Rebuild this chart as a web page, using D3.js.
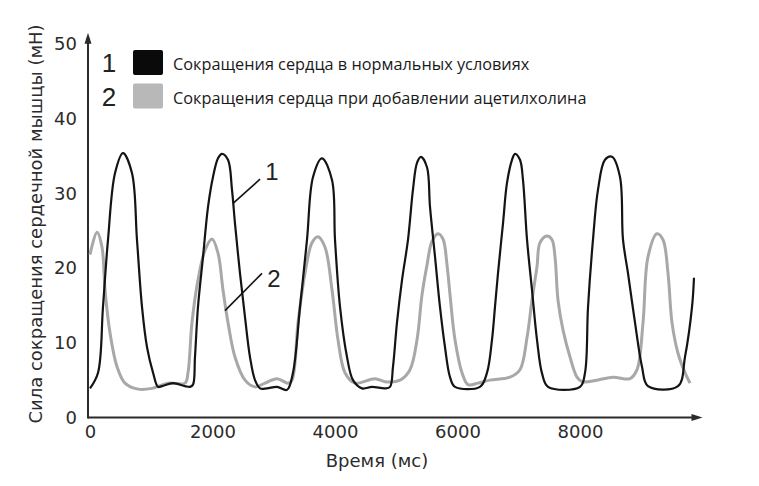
<!DOCTYPE html>
<html>
<head>
<meta charset="utf-8">
<script src="https://cdn.jsdelivr.net/npm/d3@7"></script>
<style>
  body { margin: 0; background: #fff; }
  svg { display: block; }
</style>
</head>
<body>
<div id="chart"></div>
<script>
// black trace: heart contractions, normal conditions
var timeNormal = [0, 131, 212, 294, 408, 539, 686, 767, 849, 931, 1029, 1110, 1176, 1355, 1551,
  1633, 1682, 1714, 1763, 1845, 1927, 2008, 2090, 2155, 2253, 2318, 2367, 2449, 2531, 2612, 2694, 2776,
  2890, 3053, 3216,
  3314, 3429, 3543, 3641, 3788, 3951, 4000, 4082, 4196, 4294, 4441, 4604, 4816, 4898,
  4947, 5012, 5094, 5192, 5273, 5339, 5404, 5502, 5551, 5633, 5714, 5796, 5878, 5959, 6367,
  6482, 6563, 6612, 6661, 6743, 6808, 6890, 6939, 7020, 7069, 7135, 7216, 7298, 7380, 7478, 8000,
  8082, 8131, 8212, 8294, 8408, 8522, 8653, 8702, 8784, 8898, 9012, 9110, 9600,
  9714, 9829, 9861];
var forceNormal = [3.9, 6.0, 14.8, 23.8, 32.7, 35.4, 32.7, 23.8, 14.8, 9.4, 6.0, 4.1, 4.2, 4.6, 4.2,
  4.1, 4.4, 8.1, 14.8, 21.5, 28.2, 32.2, 34.7, 35.3, 34.5, 30.5, 26.0, 19.3, 13.4, 8.1, 5.0, 3.9,
  3.9, 4.1, 3.7,
  6.0, 14.8, 23.8, 32.2, 34.7, 31.8, 23.8, 14.8, 8.1, 5.0, 3.9, 4.1, 3.9, 4.1,
  6.8, 12.7, 18.4, 23.8, 30.5, 34.1, 34.9, 33.5, 28.2, 21.5, 14.8, 9.4, 5.4, 4.1, 4.1,
  6.0, 10.4, 14.8, 19.3, 26.0, 31.4, 34.5, 35.3, 34.5, 31.8, 23.8, 17.1, 10.4, 5.9, 4.1, 4.1,
  6.0, 14.8, 23.8, 30.5, 34.5, 34.9, 32.2, 23.8, 19.3, 12.7, 6.8, 4.2, 4.2,
  8.1, 14.8, 18.7];

// grey trace: with acetylcholine added
var timeAch = [0, 114, 196, 245, 327, 441, 571, 784, 1012, 1273, 1551,
  1600, 1665, 1763, 1878, 1992, 2090, 2171, 2253, 2367, 2531, 2694, 2857, 3053, 3233,
  3298, 3396, 3510, 3624, 3722, 3837, 3951, 4049, 4163, 4327, 4653, 4816, 5061,
  5224, 5339, 5420, 5502, 5584, 5682, 5763, 5829, 5878, 5959, 6073, 6171, 6335, 6531, 6857,
  7020, 7135, 7216, 7298, 7347, 7461, 7543, 7592, 7641, 7723, 7837, 7951, 8033, 8278, 8539, 8816,
  8931, 9029, 9110, 9257, 9355, 9437, 9502, 9600, 9714, 9796];
var forceAch = [21.8, 24.8, 22.8, 17.1, 11.3, 6.8, 4.6, 3.8, 3.9, 4.6, 4.6,
  6.0, 12.7, 18.4, 22.4, 23.9, 22.0, 17.1, 12.7, 8.1, 5.0, 4.1, 4.6, 5.2, 4.6,
  5.0, 12.7, 19.3, 23.4, 24.2, 22.8, 17.1, 10.4, 6.0, 4.6, 5.2, 4.8, 5.0,
  6.4, 10.4, 16.4, 20.4, 23.6, 24.6, 23.9, 20.4, 16.4, 10.4, 6.0, 4.4, 4.6, 5.0, 5.4,
  6.4, 10.7, 15.7, 20.2, 23.4, 24.3, 23.8, 21.5, 15.7, 11.7, 8.1, 5.4, 4.8, 5.0, 5.4, 5.2,
  6.4, 12.7, 21.5, 24.6, 23.8, 19.3, 12.7, 8.6, 6.0, 4.6];

var xTicks = [0, 2000, 4000, 6000, 8000];
var yTicks = [0, 10, 20, 30, 40, 50];

var legendNums = ["1", "2"];
var legendLabels = ["Сокращения сердца в нормальных условиях",
                    "Сокращения сердца при добавлении ацетилхолина"];
// callout labels: [label, anchor t, anchor v, end t, end v]
var callouts = [["1", 2340, 28.7, 2776, 31.9], ["2", 2204, 14.3, 2808, 19.3]];

var width = 759, height = 486;
var colBlack = "#141414", colGrey = "#a8a8a8";

var svg = d3.select("#chart").append("svg")
  .attr("width", width)
  .attr("height", height);

svg.append("rect").attr("width", width).attr("height", height).attr("fill", "#fff");

var x = d3.scaleLinear().domain([0, 10000]).range([90, 702.5]);
var y = d3.scaleLinear().domain([0, 50]).range([417.5, 44]);

var axisX0 = x(0) - 2;

// ticks / labels (no tick marks)
var gx = svg.append("g")
  .attr("transform", "translate(0," + y(0) + ")")
  .call(d3.axisBottom(x).tickValues(xTicks).tickSize(0).tickPadding(8).tickFormat(d3.format("d")));
gx.select(".domain").remove();
gx.selectAll("text")
  .style("font-family", "'DejaVu Sans', sans-serif")
  .style("font-size", "18px")
  .attr("fill", "#2b2b2b");

var gy = svg.append("g")
  .attr("transform", "translate(" + axisX0 + ",0)")
  .call(d3.axisLeft(y).tickValues(yTicks).tickSize(0).tickPadding(11));
gy.select(".domain").remove();
gy.selectAll("text")
  .style("font-family", "'DejaVu Sans', sans-serif")
  .style("font-size", "18px")
  .attr("fill", "#2b2b2b");

// axis lines with arrow heads
svg.append("line")
  .attr("x1", axisX0).attr("y1", y(0))
  .attr("x2", x(10000) - 6).attr("y2", y(0))
  .attr("stroke", "#2b2b2b").attr("stroke-width", 2);
svg.append("path")
  .attr("d", "M" + x(10000) + "," + y(0) + "l-11,-3.5v7z")
  .attr("fill", "#2b2b2b");

svg.append("line")
  .attr("x1", axisX0).attr("y1", y(0) + 1)
  .attr("x2", axisX0).attr("y2", y(51.5) + 6)
  .attr("stroke", "#2b2b2b").attr("stroke-width", 2);
svg.append("path")
  .attr("d", "M" + axisX0 + "," + y(51.5) + "l-3.5,11h7z")
  .attr("fill", "#2b2b2b");

// traces
var line = d3.line()
  .x(function(d) { return x(d[0]); })
  .y(function(d) { return y(d[1]); })
  .curve(d3.curveCatmullRom.alpha(0.5));

svg.append("path")
  .datum(d3.zip(timeAch, forceAch))
  .attr("d", line)
  .attr("fill", "none")
  .attr("stroke", colGrey)
  .attr("stroke-width", 3)
  .attr("stroke-linejoin", "round");

svg.append("path")
  .datum(d3.zip(timeNormal, forceNormal))
  .attr("d", line)
  .attr("fill", "none")
  .attr("stroke", colBlack)
  .attr("stroke-width", 2.2)
  .attr("stroke-linejoin", "round");

// callouts
callouts.forEach(function(c) {
  svg.append("line")
    .attr("x1", x(c[1])).attr("y1", y(c[2]))
    .attr("x2", x(c[3])).attr("y2", y(c[4]))
    .attr("stroke", colBlack).attr("stroke-width", 1.6);
  svg.append("text")
    .attr("x", x(c[3]) + 12)
    .attr("y", y(c[4]) + (c[0] == "1" ? 1 : 14))
    .attr("text-anchor", "middle")
    .style("font-family", "'Liberation Sans', Arial, sans-serif")
    .style("font-size", "24px")
    .attr("fill", "#222")
    .text(c[0]);
});

// legend
var legend = svg.append("g");
legendLabels.forEach(function(label, i) {
  var top = 50 + i * 33.5;
  legend.append("text")
    .attr("x", 109).attr("y", top + 22)
    .attr("text-anchor", "middle")
    .style("font-family", "'Liberation Sans', Arial, sans-serif")
    .style("font-size", "26px")
    .attr("fill", "#222")
    .text(legendNums[i]);
  legend.append("rect")
    .attr("x", 133).attr("y", top)
    .attr("width", 30).attr("height", 25)
    .attr("rx", 2)
    .attr("fill", i == 0 ? "#0a0a0a" : "#b8b8b8");
  legend.append("text")
    .attr("class", "legend-label")
    .attr("x", 173).attr("y", top + 20)
    .style("font-family", "'Open Sans', sans-serif")
    .style("font-size", "16.3px")
    .attr("fill", "#1a1a1a")
    .text(label);
});

// axis titles
svg.append("text")
  .attr("x", 377).attr("y", 467)
  .attr("text-anchor", "middle")
  .style("font-family", "'DejaVu Sans', sans-serif")
  .style("font-size", "18px")
  .attr("fill", "#2b2b2b")
  .text("Время (мс)");

svg.append("text")
  .attr("transform", "translate(42,224) rotate(-90)")
  .attr("text-anchor", "middle")
  .style("font-family", "'DejaVu Sans', sans-serif")
  .style("font-size", "18px")
  .attr("fill", "#2b2b2b")
  .text("Сила сокращения сердечной мышцы (мН)");
</script>
</body>
</html>
